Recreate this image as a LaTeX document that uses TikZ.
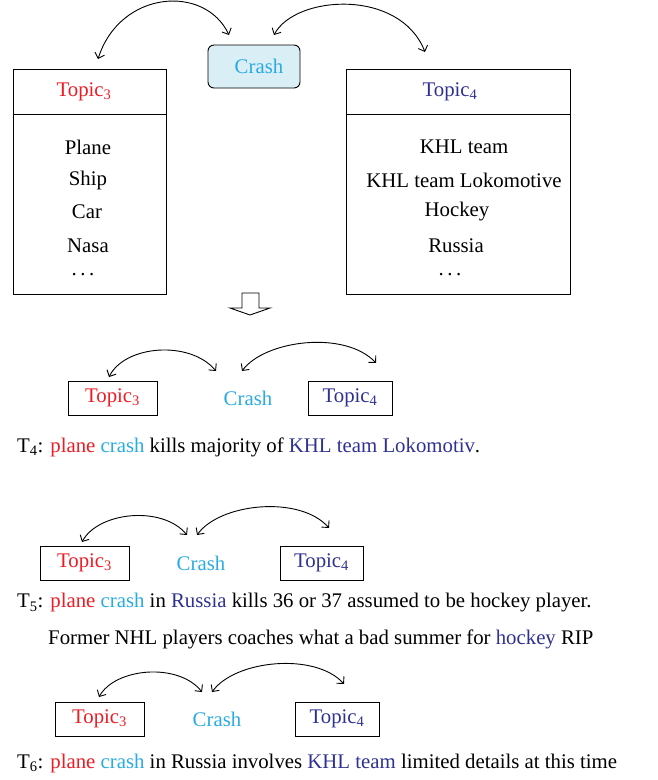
\documentclass[tikz,border=0pt]{standalone}
\usepackage{fontspec}
\setmainfont{Liberation Serif}
\usetikzlibrary{arrows.meta}
\definecolor{tred}{HTML}{ED1C24}
\definecolor{tcyan}{HTML}{29ABE2}
\definecolor{tblue}{HTML}{2E3192}
\definecolor{cfill}{HTML}{DAEEF5}
\newcommand{\mydots}{.\hspace{3.5pt}.\hspace{3.5pt}.}
\begin{document}
\begin{tikzpicture}[x=1pt,y=-1pt,
  font=\fontsize{20.8}{24}\selectfont,
  arc/.style={line width=0.9pt,{Straight Barb[length=5pt,width=10pt]}-{Straight Barb[length=5pt,width=10pt]}},
  tbox/.style={draw,line width=0.9pt,minimum height=34pt,inner sep=0pt},
  bigbox/.style={draw,line width=0.9pt,minimum height=225pt,inner sep=0pt},
  item/.style={inner sep=0pt},
  dotsnode/.style={inner sep=0pt,text height=3pt,text depth=0pt},
  sent/.style={anchor=west,inner sep=0pt}]
\useasboundingbox (0,0) rectangle (657,780);

% ---------- top part ----------
\node[bigbox,minimum width=153pt] (L) at (89.5,181.5) {};
\node[bigbox,minimum width=224pt] (R) at (458,181.5) {};
\draw[line width=0.9pt] (L.west |- 0,114) -- (L.east |- 0,114);
\draw[line width=0.9pt] (R.west |- 0,114) -- (R.east |- 0,114);
\node[draw,line width=0.9pt,fill=cfill,rounded corners=6pt,minimum width=92pt,minimum height=43pt,inner sep=0pt,text=tcyan] (C) at (254,66.5) {\hspace*{10pt}Crash};

\node[item,text=tred] (L0) at (84,92) {Topic\textsubscript{3}};
\node[item,text=tblue] (R0) at (450,92) {Topic\textsubscript{4}};
\node[item] (L1) at (88,147) {Plane};
\node[item] (L2) at (88,180) {Ship};
\node[item] (L3) at (87,212) {Car};
\node[item] (L4) at (88,246) {Nasa};
\node[dotsnode] (L5) at (83,274) {\mydots};
\node[item] (R1) at (464,147) {KHL team};
\node[item] (R2) at (464,180) {KHL team Lokomotive};
\node[item] (R3) at (457,212) {Hockey};
\node[item] (R4) at (456,246) {Russia};
\node[dotsnode] (R5) at (450,274) {\mydots};

\coordinate (a1) at (98,59);
\coordinate (a2) at (229,35);
\coordinate (a3) at (274,35);
\coordinate (a4) at (425,52);
\draw[arc] (a1) .. controls (120,-10) and (205,-16) .. (a2);
\draw[arc] (a3) .. controls (295,-5) and (400,-12) .. (a4);

% hollow down arrow
\draw[line width=0.9pt,fill=white] (242,293) -- (259,293) -- (259,308) -- (270,308) -- (250,315) -- (230,308) -- (242,308) -- cycle;

% ---------- T4 ----------
\node[tbox,minimum width=89pt,text=tred] (b3) at (112.5,398) {Topic\textsubscript{3}};
\node[item,text=tcyan] (bc) at (248,398) {Crash};
\node[tbox,minimum width=84pt,text=tblue] (b4) at (350,398) {\raisebox{2pt}{Topic\textsubscript{4}}};
\coordinate (b1) at (109,377);
\coordinate (b2) at (216,371);
\coordinate (b5) at (242,371);
\coordinate (b6) at (376,363);
\draw[arc] (b1) .. controls (125,345) and (190,340) .. (b2);
\draw[arc] (b5) .. controls (265,340) and (345,330) .. (b6);
\node[sent] (s4) at (17,447) {T\textsubscript{4}: \textcolor{tred}{plane} \textcolor{tcyan}{crash} kills majority of \textcolor{tblue}{KHL team Lokomotiv}.};

% ---------- T5 ----------
\node[tbox,minimum width=89pt,text=tred] (c3) at (84.5,563) {Topic\textsubscript{3}};
\node[item,text=tcyan] (cc) at (201,563) {Crash};
\node[tbox,minimum width=83pt,text=tblue] (c4) at (321.5,563) {\raisebox{2pt}{Topic\textsubscript{4}}};
\coordinate (c1) at (82,542);
\coordinate (c2) at (187,535);
\coordinate (c5) at (197,535);
\coordinate (c6) at (329,528);
\draw[arc] (c1) .. controls (98,512) and (162,505) .. (c2);
\draw[arc] (c5) .. controls (220,503) and (300,495) .. (c6);
\node[sent] (s5) at (17,603) {T\textsubscript{5}: \textcolor{tred}{plane} \textcolor{tcyan}{crash} in \textcolor{tblue}{Russia} kills 36 or 37 assumed to be hockey player.};
\node[sent] (s5b) at (48,639) {Former NHL players coaches what a bad summer for \textcolor{tblue}{hockey} RIP};

% ---------- T6 ----------
\node[tbox,minimum width=89pt,text=tred] (d3) at (99.5,719) {Topic\textsubscript{3}};
\node[item,text=tcyan] (dc) at (217,719) {Crash};
\node[tbox,minimum width=84pt,text=tblue] (d4) at (337,719) {\raisebox{2pt}{Topic\textsubscript{4}}};
\coordinate (d1) at (99,697);
\coordinate (d2) at (202,692);
\coordinate (d5) at (212,692);
\coordinate (d6) at (344,684);
\draw[arc] (d1) .. controls (115,668) and (178,662) .. (d2);
\draw[arc] (d5) .. controls (235,660) and (315,652) .. (d6);
\node[sent] (s6) at (17,763) {T\textsubscript{6}: \textcolor{tred}{plane} \textcolor{tcyan}{crash} in Russia involves \textcolor{tblue}{KHL team} limited details at this time};
\end{tikzpicture}
\end{document}
